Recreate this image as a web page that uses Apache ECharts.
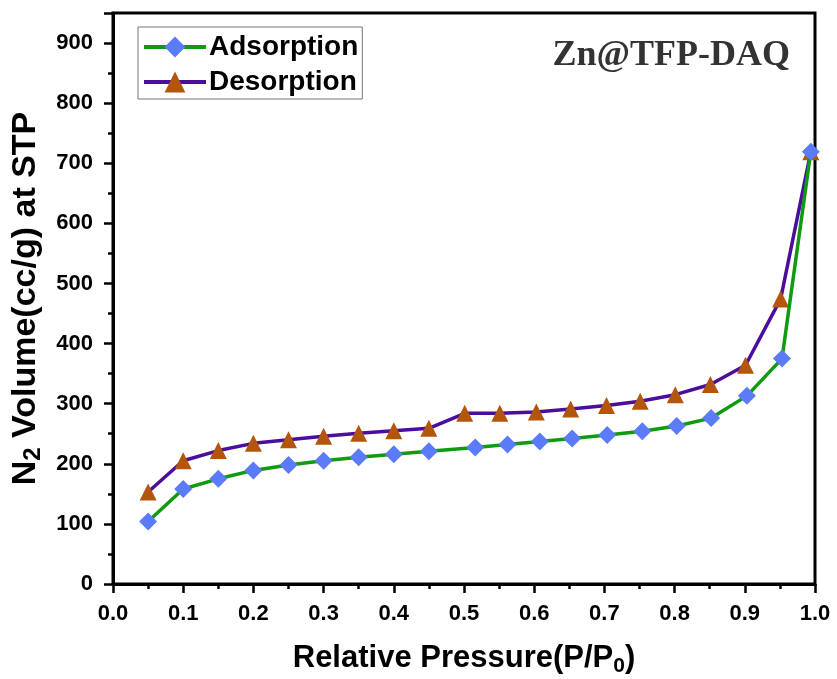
<!DOCTYPE html>
<html>
<head>
<meta charset="utf-8">
<script src="https://cdn.jsdelivr.net/npm/echarts@6/dist/echarts.min.js"></script>
<style>
  html, body { margin: 0; padding: 0; background: #fff; }
  #chart { width: 837px; height: 679px; }
</style>
</head>
<body>
<div id="chart"></div>
<script>
// 吸附 / 脱附 数据 (P/P0, cc/g)
var adsX = [0.05, 0.10, 0.15, 0.20, 0.25, 0.30, 0.35, 0.40, 0.45, 0.516, 0.562, 0.608, 0.654, 0.704, 0.754, 0.803, 0.852, 0.903, 0.953, 0.994];
var adsY = [104, 158, 175, 189, 198, 205, 211, 216, 221, 227, 232, 237, 242, 248, 254, 263, 276, 313, 375, 719];
var desX = [0.05, 0.10, 0.15, 0.20, 0.25, 0.30, 0.35, 0.40, 0.45, 0.501, 0.551, 0.603, 0.652, 0.703, 0.751, 0.801, 0.851, 0.901, 0.951, 0.994];
var desY = [153, 205, 222, 234, 240, 246, 251, 255, 259, 284, 284, 286, 291, 297, 304, 315, 332, 364, 474, 719];

function pairs(xs, ys) {
    var out = [];
    for (let i = 0; i < xs.length; i++) {
        out.push([xs[i], ys[i]]);
    }
    return out;
}

var font = 'Liberation Sans, Arial, sans-serif';
var myChart = echarts.init(document.getElementById('chart'), null, {renderer: 'canvas'});

var options = {
    backgroundColor: '#fff',
    animation: false,
    title: {
        text: 'Zn@TFP-DAQ',
        right: 42,
        top: 33,
        textStyle: {
            fontFamily: 'Liberation Serif, Times New Roman, serif',
            fontWeight: 'bold',
            fontSize: 36,
            color: '#333'
        }
    },
    legend: {
        data: ['Adsorption', 'Desorption'],
        orient: 'vertical',
        left: 138,
        top: 27,
        itemWidth: 62,
        itemHeight: 26,
        itemGap: 5,
        padding: [5, 4, 2, 4],
        borderColor: '#777',
        borderWidth: 1,
        lineStyle: {width: 4},
        textStyle: {
            fontFamily: font,
            fontWeight: 'bold',
            fontSize: 28,
            lineHeight: 30,
            color: '#000',
            padding: [0, 0, 0, -2]
        }
    },
    grid: {
        left: 113,
        right: 22,
        top: 13,
        bottom: 95,
        outerBoundsMode: 'none',
        show: true,
        borderColor: '#000',
        borderWidth: 3
    },
    xAxis: {
        type: 'value',
        min: 0,
        max: 1,
        interval: 0.1,
        splitLine: {show: false},
        axisLine: {lineStyle: {color: '#000', width: 3}},
        axisTick: {length: 9, lineStyle: {color: '#000', width: 2.5}},
        minorTick: {show: true, splitNumber: 2, length: 5, lineStyle: {color: '#000', width: 2.5}},
        axisLabel: {
            margin: 19,
            fontFamily: font,
            fontWeight: 'bold',
            fontSize: 22,
            color: '#000',
            formatter: function (v) { return v.toFixed(1); }
        },
        name: 'Relative Pressure(P/P{sub|0})',
        nameLocation: 'middle',
        nameGap: 56,
        nameTextStyle: {
            fontFamily: font,
            fontWeight: 'bold',
            fontSize: 31,
            color: '#000',
            rich: {
                sub: {fontFamily: font, fontWeight: 'bold', fontSize: 21, color: '#000', padding: [16, 0, 0, 0]}
            }
        }
    },
    yAxis: {
        type: 'value',
        min: 0,
        max: 950,
        interval: 100,
        splitLine: {show: false},
        axisLine: {lineStyle: {color: '#000', width: 3}},
        axisTick: {length: 9, lineStyle: {color: '#000', width: 2.5}},
        minorTick: {show: true, splitNumber: 2, length: 5, lineStyle: {color: '#000', width: 2.5}},
        axisLabel: {
            margin: 20,
            fontFamily: font,
            fontWeight: 'bold',
            fontSize: 22,
            color: '#000',
            formatter: function (v) { return v % 100 === 0 ? String(v) : ''; }
        },
        name: 'N{sub|2} Volume(cc/g) at STP',
        nameLocation: 'middle',
        nameGap: 59,
        nameTextStyle: {
            fontFamily: font,
            fontWeight: 'bold',
            fontSize: 34,
            color: '#000',
            rich: {
                sub: {fontFamily: font, fontWeight: 'bold', fontSize: 24, color: '#000', padding: [16, 0, 0, 0]}
            }
        }
    },
    series: [
        {
            name: 'Adsorption',
            type: 'line',
            z: 3,
            data: pairs(adsX, adsY),
            symbol: 'diamond',
            symbolSize: 18,
            lineStyle: {color: '#0f9a0f', width: 3.5},
            itemStyle: {color: '#5b7bfb'}
        },
        {
            name: 'Desorption',
            type: 'line',
            z: 2,
            data: pairs(desX, desY),
            symbol: 'triangle',
            symbolSize: 17,
            lineStyle: {color: '#4a0d9c', width: 3.5},
            itemStyle: {color: '#b4550c'}
        }
    ]
};
myChart.setOption(options);
</script>
</body>
</html>
